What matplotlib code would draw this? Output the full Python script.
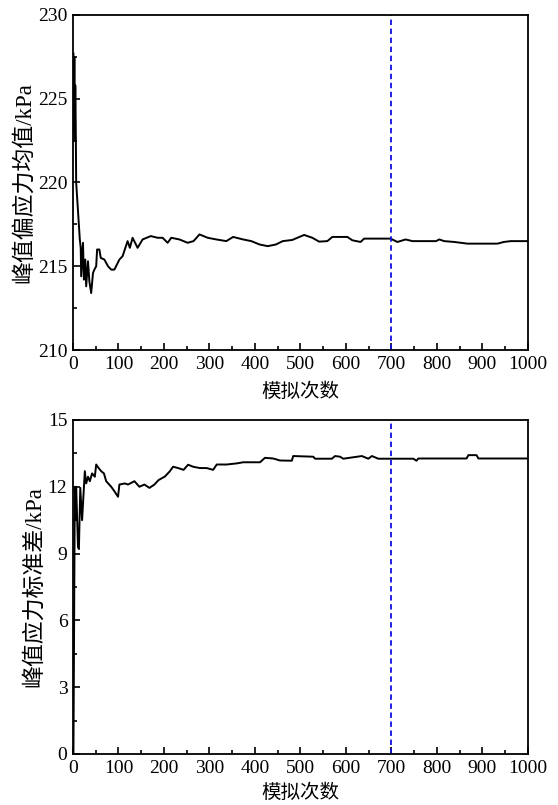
import matplotlib
matplotlib.use("Agg")
import matplotlib.pyplot as plt
from matplotlib.ticker import MultipleLocator

plt.rcParams['font.family'] = ['Liberation Serif', 'Noto Sans CJK SC']
plt.rcParams['axes.linewidth'] = 1.3

# Running mean of peak deviatoric stress (kPa) vs. number of simulations
mean_n = [1, 2, 3, 4, 5, 6, 7, 15, 17, 18, 22, 24, 27, 29, 33, 36, 40, 44, 47,
          51, 53, 58, 61, 69, 77, 84, 91, 102, 109, 120, 125, 131, 142, 153,
          171, 186, 197, 208, 216, 234, 252, 265, 278, 296, 315, 337, 352,
          374, 392, 410, 428, 446, 461, 482, 508, 526, 541, 559, 570, 603,
          614, 632, 640, 698, 713, 731, 746, 798, 805, 816, 838, 867, 933,
          947, 962, 1000]
mean_val = [227.7, 223.0, 227.5, 222.5, 225.8, 223.6, 220.0, 216.6, 216.1,
            214.4, 216.4, 214.2, 215.4, 213.8, 215.3, 214.1, 213.4, 214.6,
            214.8, 215.0, 216.0, 216.0, 215.5, 215.4, 215.0, 214.8, 214.8,
            215.4, 215.6, 216.5, 216.1, 216.7, 216.1, 216.6, 216.8, 216.7,
            216.7, 216.4, 216.7, 216.6, 216.4, 216.5, 216.9, 216.7, 216.6,
            216.5, 216.75, 216.6, 216.5, 216.3, 216.2, 216.3, 216.5, 216.57,
            216.87, 216.7, 216.47, 216.5, 216.75, 216.75, 216.55, 216.45,
            216.65, 216.65, 216.45, 216.6, 216.5, 216.5, 216.6, 216.5,
            216.45, 216.35, 216.35, 216.45, 216.5, 216.5]

# Running standard deviation of peak stress (kPa)
std_n = [1, 4, 5, 7, 11, 13, 16, 20, 26, 29, 33, 37, 42, 48, 51, 56, 62, 68,
         73, 84, 91, 99, 102, 114, 121, 135, 146, 157, 168, 179, 188, 202,
         213, 220, 231, 243, 253, 264, 279, 294, 308, 316, 338, 360, 374,
         411, 422, 440, 455, 481, 484, 528, 532, 569, 576, 587, 594, 635,
         649, 657, 671, 748, 755, 759, 865, 869, 887, 891, 1000]
std_val = [0.0, 12.0, 10.5, 12.0, 9.3, 9.2, 11.95, 10.5, 12.7, 12.15, 12.45,
           12.25, 12.6, 12.45, 13.0, 12.85, 12.7, 12.6, 12.25, 12.0, 11.8,
           11.55, 12.1, 12.15, 12.1, 12.25, 12.0, 12.1, 11.95, 12.1, 12.3,
           12.46, 12.7, 12.9, 12.84, 12.76, 12.99, 12.9, 12.84, 12.84, 12.76,
           13.0, 13.0, 13.05, 13.1, 13.1, 13.3, 13.27, 13.18, 13.17, 13.38,
           13.35, 13.26, 13.26, 13.38, 13.35, 13.26, 13.38, 13.26, 13.38,
           13.26, 13.26, 13.17, 13.27, 13.27, 13.42, 13.42, 13.27, 13.27]

converge_n = 700
x_label = '模拟次数'
mean_label = '峰值偏应力均值/kPa'
std_label = '峰值应力标准差/kPa'

fig = plt.figure(figsize=(5.58, 8.05), dpi=100)
ax1 = fig.add_axes([0.1308, 0.5652, 0.8154, 0.4162])
ax2 = fig.add_axes([0.1308, 0.0634, 0.8154, 0.4149])


def style(ax, ylim, ymaj, ymin, ylabel, xpad):
    ax.set_xlim(0, 1000)
    ax.set_ylim(*ylim)
    ax.xaxis.set_major_locator(MultipleLocator(100))
    ax.xaxis.set_minor_locator(MultipleLocator(50))
    ax.yaxis.set_major_locator(MultipleLocator(ymaj))
    ax.yaxis.set_minor_locator(MultipleLocator(ymin))
    ax.tick_params(which='both', direction='in', top=False, right=False,
                   labelsize=14, width=1.2)
    ax.tick_params(which='major', length=5, pad=4)
    ax.tick_params(which='minor', length=3)
    ax.set_xlabel(x_label, fontsize=14, labelpad=xpad)
    ax.set_ylabel(ylabel, fontsize=16.5, labelpad=2)
    ax.axvline(converge_n, color='#1010e0', linestyle=(0, (3, 2)), lw=1.3)


ax1.plot(mean_n, mean_val, color='black', lw=1.4)
style(ax1, (210, 230), 5, 2.5, mean_label, 7)

ax2.plot(std_n, std_val, color='black', lw=1.4)
style(ax2, (0, 15), 3, 1.5, std_label, 5)

fig.savefig('out.png', dpi=100)
